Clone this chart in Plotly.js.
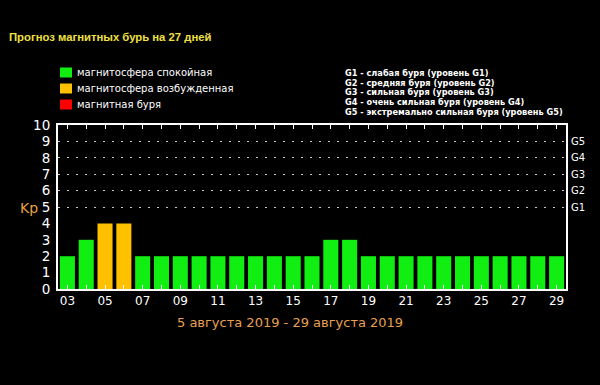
<!DOCTYPE html>
<html><head><meta charset="utf-8">
<script src="https://cdn.plot.ly/plotly-3.0.1.min.js"></script>
<style>html,body{margin:0;padding:0;background:#000;}</style>
</head><body><div id="chart" style="width:600px;height:385px;"></div>
<script>
const days = [3,4,5,6,7,8,9,10,11,12,13,14,15,16,17,18,19,20,21,22,23,24,25,26,27,28,29];
const kp = [2,3,4,4,2,2,2,2,2,2,2,2,2,2,3,3,2,2,2,2,2,2,2,2,2,2,2];
const gLevels = [5,6,7,8,9];
const gLabels = ['G1','G2','G3','G4','G5'];
const legendLabels = ['магнитосфера спокойная','магнитосфера возбужденная','магнитная буря'];
const legendColors = ['#11ee11','#ffc000','#ff0000'];
const gDescriptions = [
  'G1 - слабая буря (уровень G1)',
  'G2 - средняя буря (уровень G2)',
  'G3 - сильная буря (уровень G3)',
  'G4 - очень сильная буря (уровень G4)',
  'G5 - экстремально сильная буря (уровень G5)'
];
const titleText = 'Прогноз магнитных бурь на 27 дней';
const xTitle = '5 августа 2019 - 29 августа 2019';

const L=58, R=566, T=125, B=289;
const px = x => (x-L)/(R-L);
const py = y => (B-y)/(B-T);

const colorFor = v => v >= 5 ? legendColors[2] : (v >= 4 ? legendColors[1] : legendColors[0]);
const tickText = days.map(d => d % 2 === 1 ? String(d).padStart(2,'0') : '');

const traces = [
  {type:'bar', x:days, y:kp, marker:{color:kp.map(colorFor), line:{width:0}}, hoverinfo:'skip', showlegend:false},
  {type:'scatter', x:[null], y:[null], yaxis:'y2', showlegend:false, hoverinfo:'skip'}
];

const annotations = [];
const shapes = [];
annotations.push({text:'<b>'+titleText+'</b>', xref:'paper', yref:'paper', x:px(7), y:py(37), xanchor:'left', yanchor:'middle', showarrow:false, font:{family:'Liberation Sans, Arial', size:11.3, color:'#f0e040'}});
legendLabels.forEach((t,i)=>{
  const yc = 72.5 + i*16;
  shapes.push({type:'rect', xref:'paper', yref:'paper', x0:px(60), x1:px(72), y0:py(yc-5), y1:py(yc+5), fillcolor:legendColors[i], line:{width:0}});
  annotations.push({text:t, xref:'paper', yref:'paper', x:px(75), y:py(yc), xanchor:'left', yanchor:'middle', showarrow:false, font:{family:'DejaVu Sans', size:10, color:'#ffffff'}});
});
gDescriptions.forEach((t,i)=>{
  annotations.push({text:'<b>'+t+'</b>', xref:'paper', yref:'paper', x:px(343), y:py(72.7 + i*9.8), xanchor:'left', yanchor:'middle', showarrow:false, font:{family:'DejaVu Sans', size:8.2, color:'#ffffff'}});
});
annotations.push({text:'Kp', xref:'paper', yref:'paper', x:px(29), y:py(208), xanchor:'center', yanchor:'middle', showarrow:false, font:{family:'DejaVu Sans', size:14, color:'#e8a040'}});
annotations.push({text:xTitle, xref:'paper', yref:'paper', x:px(290), y:py(322), xanchor:'center', yanchor:'middle', showarrow:false, font:{family:'DejaVu Sans', size:13, color:'#e8a050'}});

const layout = {
  width:600, height:385,
  margin:{l:L, r:600-R, t:T, b:385-B, pad:0},
  paper_bgcolor:'#000', plot_bgcolor:'#000',
  bargap:0.2,
  showlegend:false,
  xaxis:{range:[2.5,29.5], tickvals:days, ticktext:tickText, ticks:'inside', ticklen:4, tickcolor:'#ffffff', tickwidth:1,
    showline:true, linecolor:'#ffffff', linewidth:2, mirror:'ticks', showgrid:false, zeroline:false,
    tickfont:{family:'DejaVu Sans', size:12, color:'#ffffff'}, fixedrange:true},
  yaxis:{range:[0,10], dtick:1, tick0:0, ticks:'', showline:true, linecolor:'#ffffff', linewidth:2, mirror:true,
    showgrid:false, zeroline:false, tickfont:{family:'DejaVu Sans', size:13.5, color:'#ffffff'}, ticklabelstandoff:3, fixedrange:true},
  yaxis2:{overlaying:'y', side:'right', range:[0,10], tickvals:gLevels, ticktext:gLabels, ticks:'', showline:false,
    showgrid:true, gridcolor:'#cccccc', gridwidth:1, griddash:'2px,7px', zeroline:false,
    tickfont:{family:'DejaVu Sans', size:10, color:'#ffffff'}, ticklabelstandoff:4, fixedrange:true},
  annotations:annotations,
  shapes:shapes
};
Plotly.newPlot('chart', traces, layout, {displayModeBar:false, staticPlot:true});
</script></body></html>
